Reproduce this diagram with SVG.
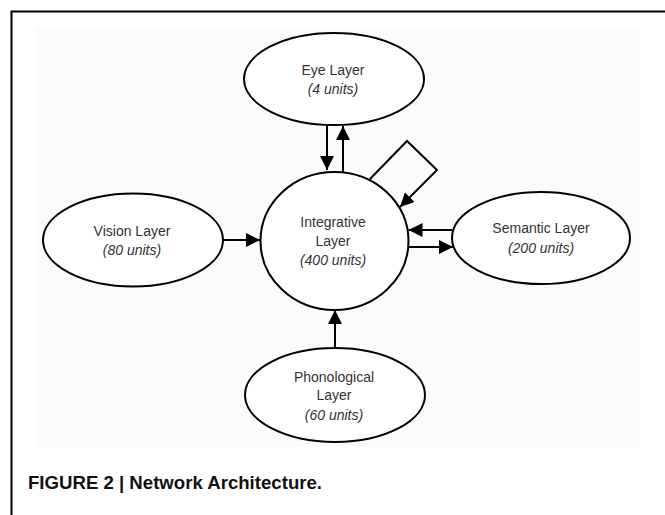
<svg xmlns="http://www.w3.org/2000/svg" width="665" height="515" viewBox="0 0 665 515">
<style>
.node{fill:#ffffff;stroke:#000000;stroke-width:2}
.lbl{font-family:"Liberation Sans",Arial,sans-serif;font-size:14px;fill:#333333;text-anchor:middle}
.it{font-style:italic}
.edge{fill:none;stroke:#000000;stroke-width:2}
.cap{font-family:"Liberation Sans",Arial,sans-serif;font-size:19px;font-weight:bold;fill:#111111}
</style>
<defs>
<marker id="ah" viewBox="0 0 10 10" refX="10" refY="5" markerWidth="7" markerHeight="7" orient="auto" markerUnits="strokeWidth">
<path d="M0,0 L10,5 L0,10 Z" fill="#000000"/>
</marker>
</defs>
<rect x="0" y="0" width="665" height="515" fill="#ffffff"/>
<rect x="35" y="27" width="605" height="420" fill="#fbfbfb"/>
<path d="M11.5,515 L11.5,11.5 L665,11.5" fill="none" stroke="#000000" stroke-width="2"/>
<g id="connectors">
<line class="edge" x1="327" y1="125" x2="327" y2="170" marker-end="url(#ah)"/>
<line class="edge" x1="343" y1="172" x2="343" y2="126" marker-end="url(#ah)"/>
<polyline class="edge" points="370,179 407,141 437,170 400,207" marker-end="url(#ah)"/>
<line class="edge" x1="222.5" y1="240" x2="260" y2="240" marker-end="url(#ah)"/>
<line class="edge" x1="452" y1="230" x2="408.5" y2="230" marker-end="url(#ah)"/>
<line class="edge" x1="408" y1="247" x2="453" y2="247" marker-end="url(#ah)"/>
<line class="edge" x1="335" y1="348" x2="335" y2="310" marker-end="url(#ah)"/>
</g>
<g id="eye">
<ellipse class="node" cx="334" cy="79" rx="90" ry="46"/>
<text class="lbl" x="333" y="75">Eye Layer</text>
<text class="lbl it" x="333" y="94">(4 units)</text>
</g>
<g id="integrative">
<ellipse class="node" cx="334.5" cy="241" rx="74" ry="69"/>
<text class="lbl" x="333" y="226.5">Integrative</text>
<text class="lbl" x="333" y="246">Layer</text>
<text class="lbl it" x="333" y="265">(400 units)</text>
</g>
<g id="vision">
<ellipse class="node" cx="133" cy="240" rx="90" ry="46.5"/>
<text class="lbl" x="132" y="236">Vision Layer</text>
<text class="lbl it" x="132" y="255">(80 units)</text>
</g>
<g id="semantic">
<ellipse class="node" cx="541" cy="238" rx="89" ry="46"/>
<text class="lbl" x="541" y="233">Semantic Layer</text>
<text class="lbl it" x="541" y="253">(200 units)</text>
</g>
<g id="phonological">
<ellipse class="node" cx="335" cy="395" rx="90" ry="47"/>
<text class="lbl" x="334" y="382">Phonological</text>
<text class="lbl" x="334" y="400">Layer</text>
<text class="lbl it" x="334" y="420">(60 units)</text>
</g>
<text class="cap" x="28" y="488.5" textLength="294" lengthAdjust="spacingAndGlyphs">FIGURE 2 | Network Architecture.</text>
</svg>
